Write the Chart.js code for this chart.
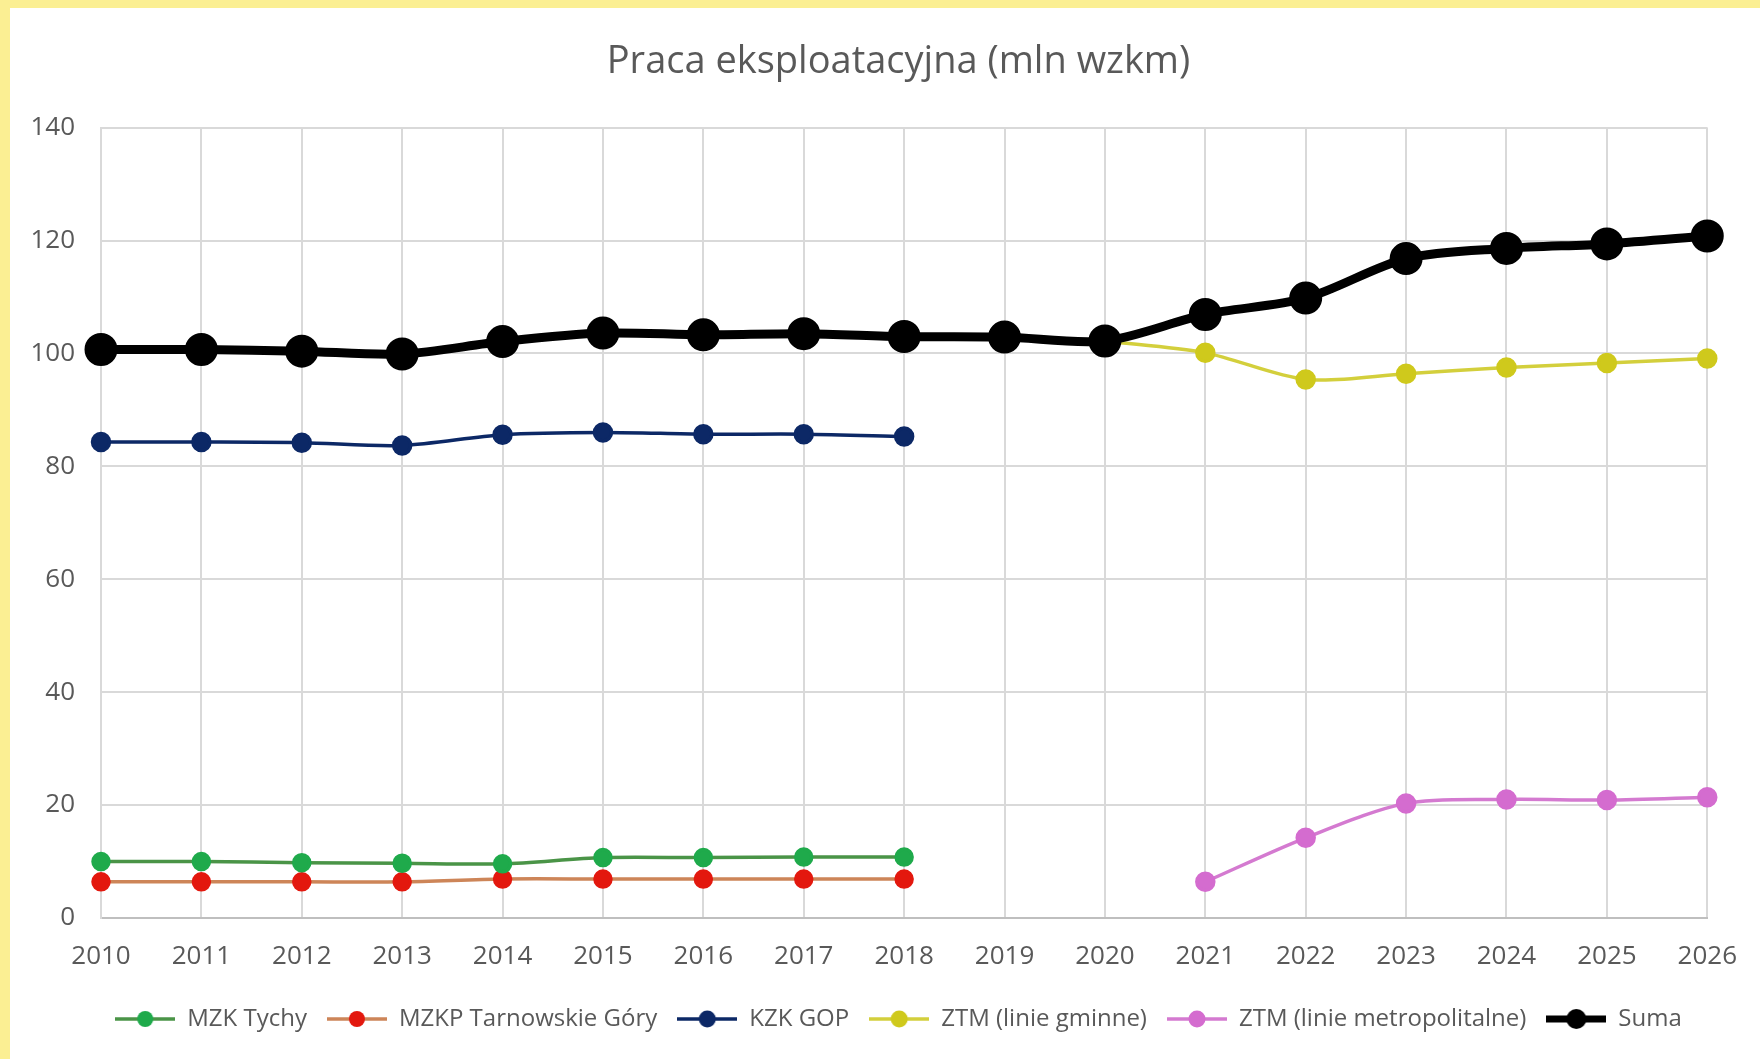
<!DOCTYPE html>
<html>
<head>
<meta charset="utf-8">
<script src="https://cdn.jsdelivr.net/npm/chart.js@4.4.1/dist/chart.umd.min.js"></script>
<style>
  html, body { margin: 0; padding: 0; background: #fff; }
  #wrap { position: relative; width: 1760px; height: 1059px; overflow: hidden; }
  .strip { position: absolute; background: #fbef93; }
  #chart { position: absolute; left: 0; top: 0; }
</style>
</head>
<body>
<div id="wrap">
  <div class="strip" style="left:0;top:0;width:1760px;height:8px"></div>
  <div class="strip" style="left:0;top:0;width:10px;height:1059px"></div>
  <canvas id="chart" width="1760" height="1059"></canvas>
</div>
<script>
// years on the x axis
const years = ["2010", "2011", "2012", "2013", "2014", "2015", "2016", "2017",
  "2018", "2019", "2020", "2021", "2022", "2023", "2024", "2025", "2026"];

// mln wzkm (null = no value that year)
const mzkTychy = [10.0, 10.0, 9.8, 9.7, 9.6, 10.7, 10.7, 10.8, 10.8,
  null, null, null, null, null, null, null, null];
const mzkpTarnowskie = [6.4, 6.4, 6.4, 6.4, 6.9, 6.9, 6.9, 6.9, 6.9,
  null, null, null, null, null, null, null, null];
const kzkGop = [84.3, 84.3, 84.2, 83.7, 85.6, 86.0, 85.7, 85.7, 85.3,
  null, null, null, null, null, null, null, null];
const ztmGminne = [null, null, null, null, null, null, null, null, null,
  null, 102.2, 100.1, 95.4, 96.4, 97.5, 98.3, 99.1];
const ztmMetro = [null, null, null, null, null, null, null, null, null,
  null, null, 6.4, 14.2, 20.3, 21.0, 20.9, 21.4];
const suma = [100.7, 100.7, 100.4, 99.9, 102.1, 103.6, 103.3, 103.5, 103.0,
  102.9, 102.2, 106.9, 109.8, 116.8, 118.6, 119.4, 120.8];

const labelNames = ["MZK Tychy", "MZKP Tarnowskie Góry", "KZK GOP",
  "ZTM (linie gminne)", "ZTM (linie metropolitalne)", "Suma"];

const textColor = "#595959";
const gridColor = "#d9d9d9";
const fontFamily = "'Open Sans', 'Noto Sans', sans-serif";

// line + marker swatch for the legend, like Excel draws it
function legendSwatch(lineColor, markerColor, lineWidth, radius) {
  const c = document.createElement("canvas");
  c.width = 60;
  c.height = 26;
  const g = c.getContext("2d");
  g.strokeStyle = lineColor;
  g.lineWidth = lineWidth;
  g.beginPath();
  g.moveTo(0, 13);
  g.lineTo(60, 13);
  g.stroke();
  g.fillStyle = markerColor;
  g.beginPath();
  g.arc(30, 13, radius, 0, Math.PI * 2);
  g.fill();
  return c;
}

function series(label, data, lineColor, markerColor, width, radius, order) {
  return {
    label,
    data,
    borderColor: lineColor,
    backgroundColor: markerColor,
    pointBackgroundColor: markerColor,
    pointBorderColor: markerColor,
    borderWidth: width,
    pointRadius: radius,
    pointHoverRadius: radius,
    tension: 0.3,
    spanGaps: false,
    order,
    swatch: legendSwatch(lineColor, markerColor, Math.min(width, 7), Math.min(radius, 10)),
  };
}

const datasets = [
  series(labelNames[0], mzkTychy, "#4a9447", "#1faa4b", 3.5, 8, 1),
  series(labelNames[1], mzkpTarnowskie, "#cd8558", "#e3180e", 3.5, 8, 1),
  series(labelNames[2], kzkGop, "#0c2866", "#0c2866", 3.5, 8.5, 1),
  series(labelNames[3], ztmGminne, "#d3cf3c", "#cfc91c", 3.5, 8.5, 1),
  series(labelNames[4], ztmMetro, "#d47ad0", "#d46ccf", 3.5, 8.5, 1),
  series(labelNames[5], suma, "#000000", "#000000", 9, 12, -1),
];

// title and legend sit a bit right of the canvas centre in the original
const centreShift = {
  id: "centreShift",
  afterLayout(chart) {
    const d = 42;
    [chart.legend, chart.titleBlock].forEach((box) => {
      if (box) { box.left += d; box.right += d; }
    });
  },
};

new Chart(document.getElementById("chart"), {
  type: "line",
  data: { labels: years, datasets },
  plugins: [centreShift],
  options: {
    responsive: false,
    animation: false,
    devicePixelRatio: 1,
    layout: { padding: { left: 0, right: 47, top: 0, bottom: 18 } },
    plugins: {
      title: {
        display: true,
        text: "Praca eksploatacyjna (mln wzkm)",
        color: textColor,
        font: { family: fontFamily, size: 38, weight: "normal" },
        padding: { top: 39, bottom: 43 },
      },
      legend: {
        position: "bottom",
        labels: {
          color: textColor,
          font: { family: fontFamily, size: 24 },
          usePointStyle: true,
          pointStyleWidth: 60,
          padding: 20,
          sort: (a, b) => a.datasetIndex - b.datasetIndex,
          generateLabels(chart) {
            const items = Chart.defaults.plugins.legend.labels.generateLabels(chart);
            items.forEach((it) => {
              it.pointStyle = chart.data.datasets[it.datasetIndex].swatch;
            });
            return items;
          },
        },
      },
      tooltip: { enabled: false },
    },
    scales: {
      x: {
        offset: false,
        grid: { color: gridColor, lineWidth: 2, drawTicks: false },
        border: { color: "#bfbfbf", width: 2 },
        ticks: {
          color: textColor,
          font: { family: fontFamily, size: 26 },
          padding: 23,
          maxRotation: 0,
          autoSkip: false,
        },
        afterFit(scale) { scale.height = 69; },
      },
      y: {
        min: 0,
        max: 140,
        grid: { color: gridColor, lineWidth: 2, drawTicks: false },
        border: { color: gridColor, width: 2 },
        ticks: {
          stepSize: 20,
          color: textColor,
          font: { family: fontFamily, size: 26 },
          padding: 26,
        },
        afterFit(scale) { scale.width = 101; },
      },
    },
  },
});
</script>
</body>
</html>
